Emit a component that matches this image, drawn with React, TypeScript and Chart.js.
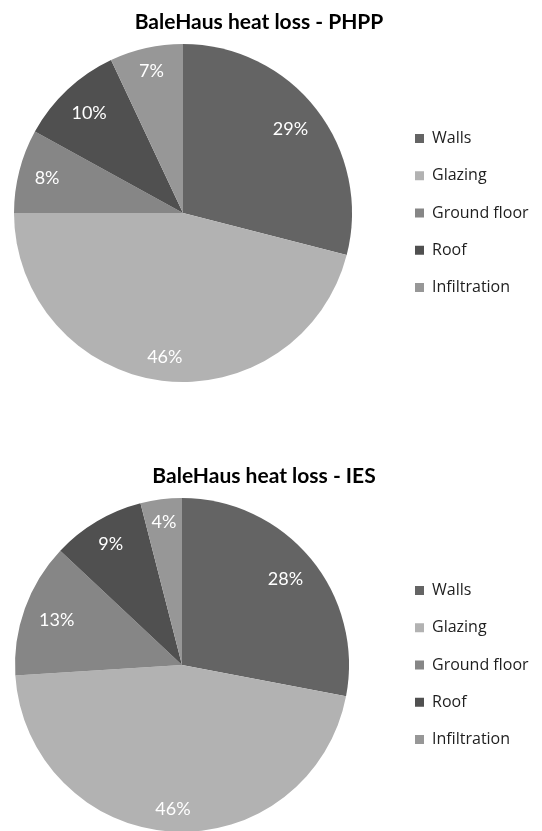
import React, { useEffect, useRef } from "react";
import { Chart, registerables } from "chart.js";

Chart.register(...registerables);

const categories = ["Walls", "Glazing", "Ground floor", "Roof", "Infiltration"];
const phppValues = [29, 46, 8, 10, 7];
const iesValues = [28, 46, 13, 9, 4];
const phppTitle = "BaleHaus heat loss - PHPP";
const iesTitle = "BaleHaus heat loss - IES";
const sliceColors = ["#646464", "#b2b2b2", "#868686", "#505050", "#979797"];

const FONT = "Lato";
const LEGEND_FONT = "Open Sans";
const LEGEND_FONT_SIZE = 16;
const LEGEND_SPACING = 37.25;
const LEGEND_BOX_X = 415;
const TITLE_SIZE = 21;
const PAGE_W = 542;

const sliceLabelPlugin = {
  id: "sliceLabels",
  afterDatasetsDraw(chart: any) {
    const ctx = chart.ctx;
    const meta = chart.getDatasetMeta(0);
    const data = chart.data.datasets[0].data;
    ctx.save();
    ctx.font = `18px ${FONT}`;
    ctx.fillStyle = "#ffffff";
    ctx.textAlign = "center";
    ctx.textBaseline = "middle";
    meta.data.forEach((arc: any, i: number) => {
      const p = arc.getProps(["x", "y", "startAngle", "endAngle", "outerRadius"], true);
      const mid = (p.startAngle + p.endAngle) / 2;
      const text = `${data[i]}%`;
      const w = ctx.measureText(text).width;
      const c = Math.cos(mid);
      const s = Math.sin(mid);
      const ext = Math.abs(c) * (w / 2) + Math.abs(s) * 6.5;
      const r = p.outerRadius - 15 - ext;
      ctx.fillText(text, p.x + c * r, p.y + s * r);
    });
    ctx.restore();
  },
};

const legendWidthPlugin = {
  id: "legendWidth",
  afterInit(chart: any, _args: any, opts: any) {
    const legend = chart.legend;
    if (!legend || !opts || !opts.width) return;
    const fit = legend.fit.bind(legend);
    legend.fit = () => {
      fit();
      legend.width = opts.width;
    };
  },
};

type PieProps = {
  values: number[];
  title: string;
  top: number;
  cx: number;
  cy: number;
  radius: number;
  titleCenter: number;
  titleCapY: number;
};

function computeLayout(cx: number, cy: number, titleCenter: number, titleCapY: number) {
  const lineH = TITLE_SIZE * 1.2;
  const tPadTop = titleCapY - lineH / 2;
  const tPadBottom = 6;
  const titleBox = tPadTop + lineH + tPadBottom;
  const areaBottom = 2 * cy - titleBox;
  const height = Math.ceil(areaBottom) + 2;
  const padBottom = height - areaBottom;
  const labelPadding = LEGEND_SPACING - LEGEND_FONT_SIZE;
  const legendLeft = LEGEND_BOX_X - labelPadding;
  const rawPadLeft = 2 * cx - legendLeft;
  const shift = rawPadLeft < 0 ? Math.ceil(-rawPadLeft) + 1 : 0;
  const padLeft = rawPadLeft + shift;
  const titleRight = 2 * titleCenter - rawPadLeft;
  const width = Math.max(PAGE_W, Math.ceil(titleRight)) + shift + 2;
  const padRight = width - (titleRight + shift);
  const legendWidth = titleRight - legendLeft;
  return { tPadTop, tPadBottom, height, padBottom, labelPadding, shift, padLeft, width, padRight, legendWidth };
}

function PieChart(props: PieProps) {
  const ref = useRef<HTMLCanvasElement | null>(null);
  const { values, title, top, cx, cy, radius, titleCenter, titleCapY } = props;
  const L = computeLayout(cx, cy, titleCenter, titleCapY);

  useEffect(() => {
    if (!ref.current) return;
    const chart = new Chart(ref.current, {
      type: "pie",
      data: {
        labels: categories,
        datasets: [
          {
            data: values,
            backgroundColor: sliceColors,
            borderWidth: 0,
            radius: radius,
            clip: false,
          } as any,
        ],
      },
      options: {
        animation: false,
        responsive: false,
        layout: {
          padding: { left: L.padLeft, right: L.padRight, top: 0, bottom: L.padBottom },
        },
        plugins: {
          title: {
            display: true,
            text: title,
            color: "#000000",
            font: { family: FONT, size: TITLE_SIZE, weight: "bold", lineHeight: 1.2 },
            padding: { top: L.tPadTop, bottom: L.tPadBottom },
          },
          legend: {
            display: true,
            position: "right",
            align: "center",
            fullSize: false,
            labels: {
              boxWidth: 9,
              boxHeight: 9,
              padding: L.labelPadding,
              color: "#1e1e1e",
              font: { family: LEGEND_FONT, size: LEGEND_FONT_SIZE },
            },
          },
          tooltip: { enabled: false },
          legendWidth: { width: L.legendWidth },
        } as any,
      },
      plugins: [legendWidthPlugin, sliceLabelPlugin],
    });
    return () => chart.destroy();
  }, [values, title, top, cx, cy, radius, titleCenter, titleCapY]);

  return (
    <canvas
      ref={ref}
      width={L.width}
      height={L.height}
      style={{ position: "absolute", left: -L.shift, top: top, width: L.width, height: L.height }}
    />
  );
}

export default function App() {
  return (
    <div style={{ position: "absolute", left: 0, top: 0, width: PAGE_W, height: 831, background: "#ffffff", overflow: "hidden" }}>
      <PieChart values={phppValues} title={phppTitle} top={0} cx={183} cy={213} radius={169} titleCenter={259} titleCapY={22.5} />
      <PieChart values={iesValues} title={iesTitle} top={420} cx={182} cy={245} radius={167} titleCenter={264} titleCapY={56} />
    </div>
  );
}
